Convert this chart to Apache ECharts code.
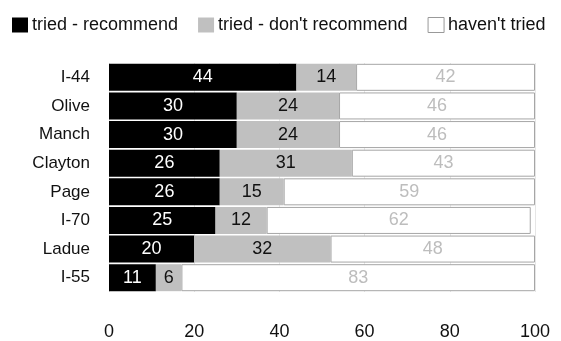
<!DOCTYPE html>
<html>
<head>
<meta charset="utf-8">
<script src="https://cdn.jsdelivr.net/npm/echarts@6/dist/echarts.min.js"></script>
<style>
  html, body { margin: 0; padding: 0; background: #fff; }
  #chart { width: 561px; height: 341px; }
</style>
</head>
<body>
<div id="chart"></div>
<script>
const categories = ['I-44', 'Olive', 'Manch', 'Clayton', 'Page', 'I-70', 'Ladue', 'I-55'];
const recommend = [44, 30, 30, 26, 26, 25, 20, 11];
const dontRecommend = [14, 24, 24, 31, 15, 12, 32, 6];
const haventTried = [42, 46, 46, 43, 59, 62, 48, 83];
const xTicks = [0, 20, 40, 60, 80, 100];

const FONT = '"Liberation Sans Narrow", "Liberation Sans", Arial, sans-serif';

const chart = echarts.init(document.getElementById('chart'));

const labelBase = {
  show: true,
  position: 'inside',
  fontFamily: FONT,
  fontSize: 18
};

const option = {
  backgroundColor: '#fff',
  animation: false,
  legend: {
    left: 12,
    top: 16,
    padding: 0,
    itemWidth: 16,
    itemHeight: 15,
    itemGap: 20,
    icon: 'rect',
    textStyle: { fontFamily: FONT, fontSize: 18, color: '#111', padding: [0, 0, 0, -1] },
    data: [
      { name: 'tried - recommend' },
      { name: "tried - don't recommend" },
      { name: "haven't tried", itemStyle: { color: '#fff', borderColor: '#999', borderWidth: 1 } }
    ]
  },
  grid: {
    left: 109,
    right: 26,
    top: 63,
    bottom: 46
  },
  xAxis: {
    type: 'value',
    min: 0,
    max: 100,
    interval: 20,
    axisLine: { show: false },
    axisTick: { show: false },
    splitLine: { show: true, lineStyle: { color: '#e6e6e6', width: 1 } },
    axisLabel: {
      fontFamily: FONT,
      fontSize: 18,
      color: '#111',
      margin: 31,
      formatter: function (v) { return xTicks.indexOf(v) >= 0 ? String(v) : ''; }
    }
  },
  yAxis: {
    type: 'category',
    inverse: true,
    data: categories,
    axisLine: { show: false },
    axisTick: { show: false },
    axisLabel: {
      fontFamily: FONT,
      fontSize: 17,
      color: '#111',
      margin: 19
    }
  },
  series: [
    {
      name: 'tried - recommend',
      type: 'bar',
      stack: 'total',
      barWidth: 27,
      data: recommend,
      itemStyle: { color: '#000' },
      label: Object.assign({}, labelBase, { color: '#fff' })
    },
    {
      name: "tried - don't recommend",
      type: 'bar',
      stack: 'total',
      barWidth: 27,
      data: dontRecommend,
      itemStyle: { color: '#c0c0c0' },
      label: Object.assign({}, labelBase, { color: '#111' })
    },
    {
      name: "haven't tried",
      type: 'bar',
      stack: 'total',
      barWidth: 27,
      data: haventTried,
      itemStyle: { color: '#fff', borderColor: '#a6a6a6', borderWidth: 1 },
      label: Object.assign({}, labelBase, { color: '#bdbdbd' })
    }
  ]
};

chart.setOption(option);
</script>
</body>
</html>
